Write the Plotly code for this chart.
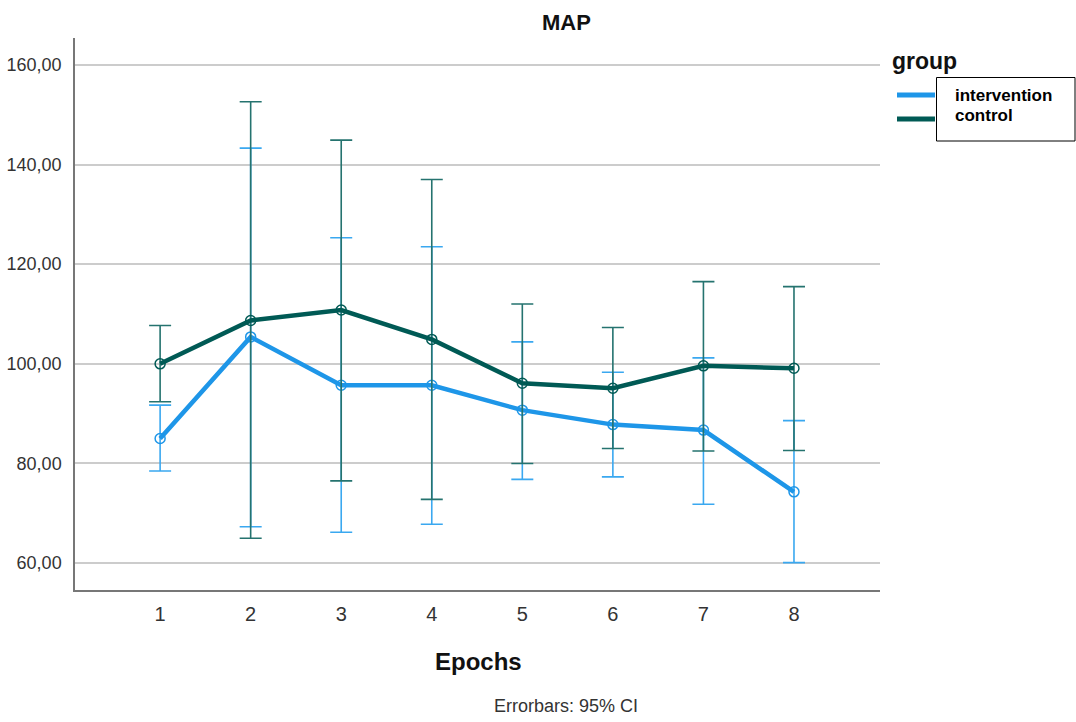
import plotly.graph_objects as go

epochs = [1, 2, 3, 4, 5, 6, 7, 8]
tick_labels = ["1", "2", "3", "4", "5", "6", "7", "8"]

intervention_mean = [85.0, 105.4, 95.7, 95.7, 90.7, 87.8, 86.7, 74.3]
intervention_upper = [91.7, 143.3, 125.3, 123.5, 104.4, 98.3, 101.2, 88.6]
intervention_lower = [78.5, 67.3, 66.2, 67.8, 76.8, 77.3, 71.8, 60.1]

control_mean = [100.0, 108.7, 110.8, 104.9, 96.1, 95.1, 99.6, 99.1]
control_upper = [107.7, 152.6, 144.9, 137.0, 112.0, 107.3, 116.5, 115.5]
control_lower = [92.4, 65.0, 76.5, 72.8, 80.0, 83.0, 82.5, 82.6]

y_ticks = [60, 80, 100, 120, 140, 160]
y_tick_labels = ["60,00", "80,00", "100,00", "120,00", "140,00", "160,00"]

BLUE = "#1e96e8"
BLUE_ERR = "#3aa8f0"
TEAL = "#005a55"
TEAL_ERR = "#25736f"

fig = go.Figure()


def add_group(name, mean, upper, lower, color, err_color):
    plus = [u - m for u, m in zip(upper, mean)]
    minus = [m - l for m, l in zip(mean, lower)]
    fig.add_trace(go.Scatter(
        x=epochs, y=mean, mode="markers", name=name + " CI",
        marker=dict(size=1, color="rgba(0,0,0,0)"),
        error_y=dict(type="data", array=plus, arrayminus=minus,
                     color=err_color, thickness=1.6, width=11, symmetric=False),
        showlegend=False, hoverinfo="skip",
    ))
    fig.add_trace(go.Scatter(
        x=epochs, y=mean, mode="lines+markers", name=name,
        line=dict(color=color, width=4.5),
        marker=dict(symbol="circle-open", size=10, color=color, line=dict(width=1.5)),
        showlegend=False,
    ))


add_group("intervention", intervention_mean, intervention_upper, intervention_lower, BLUE, BLUE_ERR)
add_group("control", control_mean, control_upper, control_lower, TEAL, TEAL_ERR)

L, R, T, B = 75, 196, 38, 132
W, H = 1076, 722
pw = W - L - R
ph = H - T - B


def px(x):
    return (x - L) / pw


def py(y):
    return 1 - (y - T) / ph


shapes = [
    dict(type="line", xref="paper", yref="paper", x0=px(897), x1=px(935), y0=py(95), y1=py(95),
         line=dict(color=BLUE, width=5)),
    dict(type="line", xref="paper", yref="paper", x0=px(897), x1=px(935), y0=py(119), y1=py(119),
         line=dict(color=TEAL, width=5)),
    dict(type="rect", xref="paper", yref="paper", x0=px(936.5), x1=px(1075), y0=py(141), y1=py(77.5),
         line=dict(color="black", width=1), fillcolor="white"),
]

annotations = [
    dict(text="<b>MAP</b>", xref="paper", yref="paper", x=px(566), y=py(22), showarrow=False,
         font=dict(size=22, color="#111111"), xanchor="center", yanchor="middle"),
    dict(text="<b>group</b>", xref="paper", yref="paper", x=px(890), y=py(61), showarrow=False,
         font=dict(size=23, color="#111111"), xanchor="left", yanchor="middle"),
    dict(text="<b>intervention</b>", xref="paper", yref="paper", x=px(953), y=py(95), showarrow=False,
         font=dict(size=17, color="black"), xanchor="left", yanchor="middle"),
    dict(text="<b>control</b>", xref="paper", yref="paper", x=px(953), y=py(115), showarrow=False,
         font=dict(size=17, color="black"), xanchor="left", yanchor="middle"),
    dict(text="<b>Epochs</b>", xref="paper", yref="paper", x=px(478), y=py(661), showarrow=False,
         font=dict(size=24, color="#111111"), xanchor="center", yanchor="middle"),
    dict(text="Errorbars: 95% CI", xref="paper", yref="paper", x=px(566), y=py(706), showarrow=False,
         font=dict(size=18, color="#333333"), xanchor="center", yanchor="middle"),
]

fig.update_layout(
    width=W, height=H,
    margin=dict(l=L, r=R, t=T, b=B, autoexpand=False),
    paper_bgcolor="white", plot_bgcolor="white",
    font=dict(family="Liberation Sans, Arial, sans-serif", color="#333333"),
    showlegend=False,
    shapes=shapes,
    annotations=annotations,
    xaxis=dict(
        range=[0.06, 8.95], tickvals=epochs, ticktext=tick_labels,
        showgrid=False, zeroline=False, automargin=False,
        showline=True, linecolor="#777777", linewidth=1.5,
        ticks="", tickfont=dict(size=20, color="#333333"), ticklabelstandoff=5,
    ),
    yaxis=dict(
        range=[54.6, 165.4], tickvals=y_ticks, ticktext=y_tick_labels,
        showgrid=True, gridcolor="#cccccc", gridwidth=1.5, zeroline=False, automargin=False,
        showline=True, linecolor="#777777", linewidth=1.5,
        ticks="", tickfont=dict(size=18, color="#333333"), ticklabelstandoff=8,
    ),
)

fig.write_html("out.html")
